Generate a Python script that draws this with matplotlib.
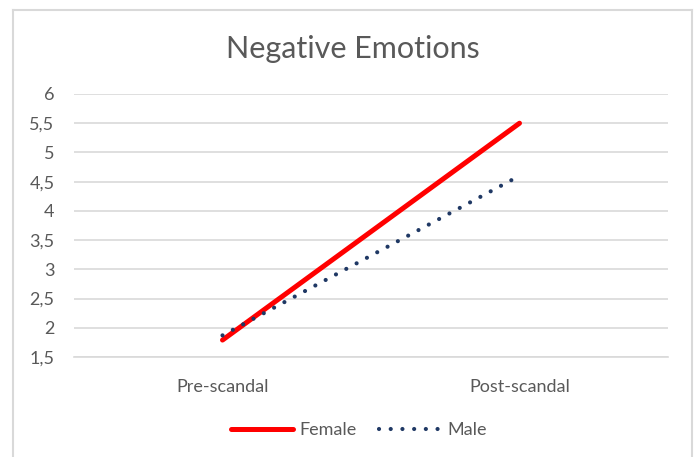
import matplotlib
matplotlib.use("Agg")
import matplotlib.pyplot as plt
from matplotlib.lines import Line2D
from matplotlib.ticker import FuncFormatter

categories = ["Pre-scandal", "Post-scandal"]
female = [1.79, 5.5]
male = [1.87, 4.6]
yticks = [1.5, 2, 2.5, 3, 3.5, 4, 4.5, 5, 5.5, 6]

plt.rcParams["font.family"] = ["Lato", "DejaVu Sans"]
txt = "#595959"
grid = "#d9d9d9"

fig = plt.figure(figsize=(6.97, 4.57), dpi=100)
W, H = 697, 457

# chart frame (Excel-like border, bottom cut off)
fx0, fx1, fy1 = 13 / W, 692 / W, 1 - 10 / H
for xs, ys in [([fx0, fx0], [0, fy1]), ([fx0, fx1], [fy1, fy1]), ([fx1, fx1], [fy1, 0])]:
    fig.add_artist(Line2D(xs, ys, transform=fig.transFigure, color=grid, lw=1.5))

left, right = 74 / W, 668 / W
bottom, top = 1 - 357 / H, 1 - 94 / H
ax = fig.add_axes([left, bottom, right - left, top - bottom])

x = range(len(categories))
ax.plot(x, female, color="#ff0000", lw=3.6, solid_capstyle="round", zorder=3, label="Female")
ax.plot(x, male, color="#1f3864", lw=3.0, linestyle=(0, (0.01, 2.8)),
        dash_capstyle="round", zorder=4, label="Male")

ax.set_xlim(-0.5, 1.5)
ax.set_ylim(1.5, 6)
ax.set_yticks(yticks)
ax.yaxis.set_major_formatter(FuncFormatter(lambda v, p: f"{v:g}".replace(".", ",")))
ax.set_xticks(list(x))
ax.set_xticklabels(categories)
ax.grid(axis="y", color=grid, lw=1.2)
ax.set_axisbelow(True)
for s in ["top", "right", "left"]:
    ax.spines[s].set_visible(False)
ax.spines["bottom"].set_color(grid)
ax.spines["bottom"].set_linewidth(1.2)
ax.tick_params(axis="both", length=0, labelsize=13, colors=txt)
ax.tick_params(axis="y", pad=14)
ax.tick_params(axis="x", pad=16)

fig.text(0.506, 1 - 49 / H, "Negative Emotions", ha="center", va="center",
         fontsize=22, color=txt)

leg = fig.legend(loc="center", bbox_to_anchor=(0.515, 1 - 430 / H), ncol=2,
                 frameon=False, fontsize=13, handlelength=3.4, handletextpad=0.4,
                 columnspacing=1.2, labelcolor=txt)

fig.savefig("out.png", dpi=100)
